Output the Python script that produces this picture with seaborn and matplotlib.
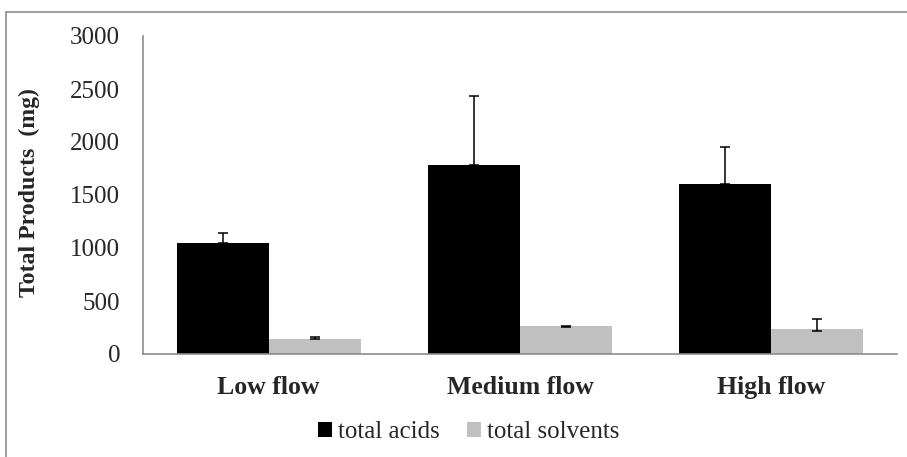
import matplotlib
matplotlib.use("Agg")
import matplotlib.pyplot as plt
import seaborn as sns
import pandas as pd
import numpy as np
from matplotlib.lines import Line2D
from matplotlib.patches import Patch

categories = ["Low flow", "Medium flow", "High flow"]
series = ["total acids", "total solvents"]
acids = [1050, 1780, 1605]
solvents = [140, 260, 232]
acids_err_plus = [95, 655, 350]
acids_err_minus = [0, 0, 0]
solvents_err_plus = [25, 4, 95]
solvents_err_minus = [0, 4, 12]
colors = ["#000000", "#C0C0C0"]
yticks = [0, 500, 1000, 1500, 2000, 2500, 3000]

df = pd.DataFrame({
    "Category": categories * 2,
    "Series": [series[0]] * 3 + [series[1]] * 3,
    "Value": acids + solvents,
})

sns.set_style("white")
plt.rcParams["font.family"] = ["Liberation Serif", "DejaVu Serif"]

fig = plt.figure(figsize=(9.07, 4.57), dpi=100)
ax = fig.add_axes([143 / 907, 1 - 354 / 457, 754 / 907, 318 / 457])

sns.barplot(data=df, x="Category", y="Value", hue="Series", order=categories,
            hue_order=series, palette=colors, width=0.732, saturation=1,
            errorbar=None, ax=ax, legend=False, edgecolor="none")

# error bars at bar centers
patches = [p for p in ax.patches]
errs = [(acids_err_minus, acids_err_plus, acids), (solvents_err_minus, solvents_err_plus, solvents)]
for si, (em, ep, vals) in enumerate(errs):
    bars = patches[si * 3:(si + 1) * 3]
    xs = [b.get_x() + b.get_width() / 2 for b in bars]
    ax.errorbar(xs, vals, yerr=[em, ep], fmt="none", ecolor="black",
                elinewidth=1.1, capsize=3.6, capthick=1.1, zorder=5)

ax.set_xlim(-0.5, 2.5)
ax.set_ylim(0, 3000)
ax.set_yticks(yticks)
ax.set_yticklabels([str(v) for v in yticks], fontsize=18)
ax.tick_params(axis="y", length=0, pad=16.5)
ax.tick_params(axis="x", length=0, pad=16)
for lab in ax.get_xticklabels():
    lab.set_fontweight("bold")
    lab.set_fontsize(18.5)
ax.set_xlabel("")
ax.set_ylabel("Total Products  (mg)", fontsize=17.2, fontweight="bold")
ax.yaxis.set_label_coords(-0.137, 0.508)

for s in ["top", "right"]:
    ax.spines[s].set_visible(False)
for s in ["left", "bottom"]:
    ax.spines[s].set_color("#8c8c8c")
    ax.spines[s].set_linewidth(1.2)

# legend
handles = [Patch(facecolor=c, edgecolor="none") for c in colors]
fig.legend(handles, series, loc="center", bbox_to_anchor=(469 / 907, 1 - 432 / 457),
           ncol=2, frameon=False, fontsize=18, handlelength=0.56, handleheight=0.56,
           handletextpad=0.25, columnspacing=1.08)

# outer chart frame (partially visible)
fig.add_artist(Line2D([6 / 907, 1.0], [1 - 12 / 457] * 2, transform=fig.transFigure,
                      color="#8c8c8c", linewidth=1.2))
fig.add_artist(Line2D([6 / 907] * 2, [0, 1 - 12 / 457], transform=fig.transFigure,
                      color="#8c8c8c", linewidth=1.2))

fig.savefig("out.png", dpi=100)
